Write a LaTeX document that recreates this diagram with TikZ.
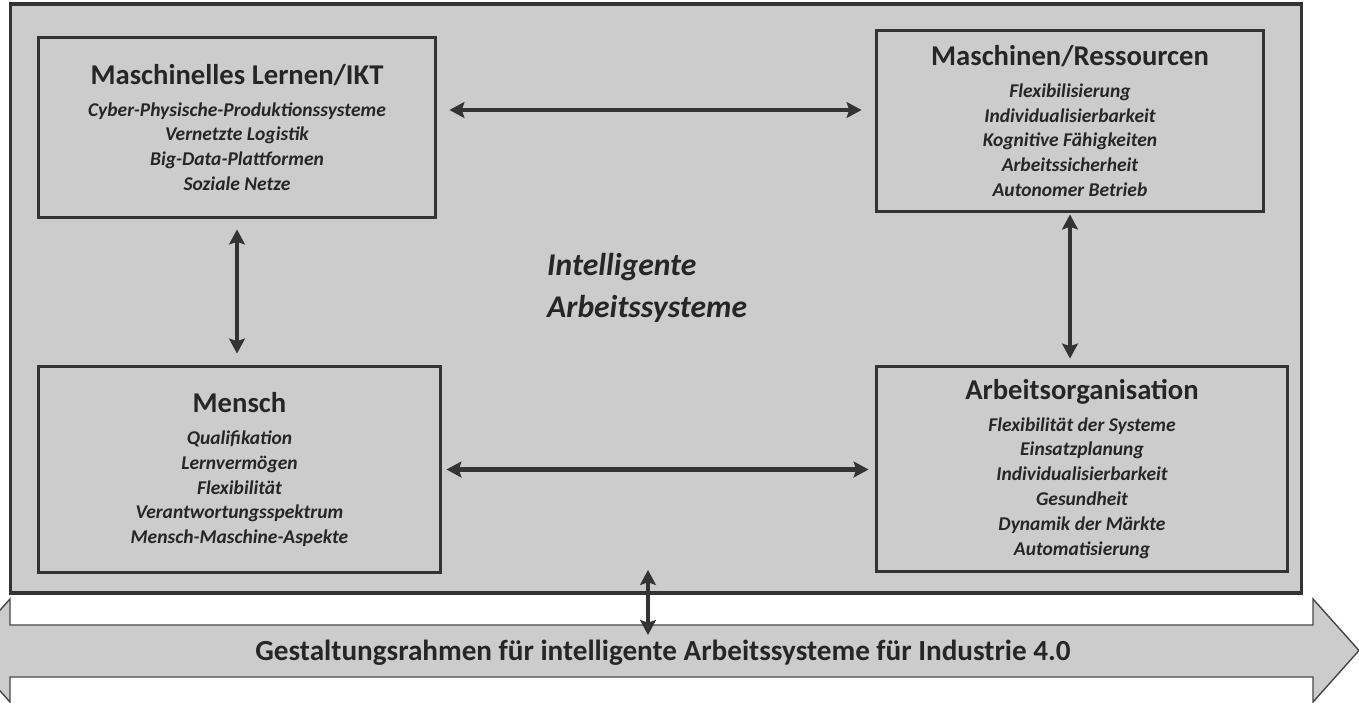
\documentclass[tikz,border=0pt]{standalone}
\usepackage{fontspec}
\setmainfont{Carlito}
\usetikzlibrary{arrows.meta}
\definecolor{grau}{HTML}{CCCCCC}
\definecolor{dunkel}{HTML}{333333}
\definecolor{schrift}{HTML}{262626}
\newcommand{\kopf}[1]{{\fontsize{16.3}{19}\selectfont\upshape #1}\\[4pt]}

\tikzset{
  kasten/.style={draw=dunkel, line width=1.7pt, fill=grau, align=center, text=schrift,
    font=\fontsize{11.1}{14.2}\selectfont\bfseries\itshape, inner sep=0pt},
  link/.style={draw=dunkel, line width=2.3pt,
    {Stealth[length=8.5pt,width=9pt,inset=1.5pt]}-{Stealth[length=8.5pt,width=9pt,inset=1.5pt]}},
}

\begin{document}
\begin{tikzpicture}[x=0.02cm, y=-0.02cm]
            \useasboundingbox (0,0) rectangle (1359,703);
            % Rahmen
            \node[draw=dunkel, line width=1.8pt, fill=grau, minimum width=25.84cm,
                minimum height=11.78cm, inner sep=0pt] (frame) at (656,298.5) {};
            \node[anchor=west, align=left, text=schrift,
                font=\fontsize{18}{24}\selectfont\bfseries\itshape] (mitte) at (541,288)
                {Intelligente\\Arbeitssysteme};
            % Kaesten
            \node[kasten, minimum width=7.96cm, minimum height=3.62cm] (ml) at (237,127.5)
                {\kopf{Maschinelles Lernen/IKT}Cyber-Physische-Produktionssysteme\\Vernetzte Logistik\\Big-Data-Plattformen\\Soziale Netze};
            \node[kasten, minimum width=7.76cm, minimum height=3.64cm] (mr) at (1070,121)
                {\kopf{Maschinen/Ressourcen}Flexibilisierung\\Individualisierbarkeit\\Kognitive Fähigkeiten\\Arbeitssicherheit\\Autonomer Betrieb};
            \node[kasten, minimum width=8.06cm, minimum height=4.14cm] (ms) at (239.5,469.5)
                {\kopf{Mensch}Qualifikation\\Lernvermögen\\Flexibilität\\Verantwortungsspektrum\\Mensch-Maschine-Aspekte};
            \node[kasten, minimum width=8.24cm, minimum height=4.12cm] (ao) at (1082,469)
                {\kopf{Arbeitsorganisation}Flexibilität der Systeme\\Einsatzplanung\\Individualisierbarkeit\\Gesundheit\\Dynamik der Märkte\\Automatisierung};
            % Gestaltungsrahmen
            \draw[draw=dunkel!90, line width=0.8pt, fill=grau] (10,625) -- (1313,625) -- (1313,599)
                -- (1359,650.5) -- (1313,702) -- (1313,677) -- (10,677) -- (10,702)
                -- (-36,650.5) -- (10,599) -- cycle;
            \node[anchor=base, text=schrift, font=\fontsize{16.6}{19}\selectfont\bfseries] (basis) at (663,660)
                {Gestaltungsrahmen für intelligente Arbeitssysteme für Industrie 4.0};
            \coordinate (innen) at (648,570);
            \coordinate (fuss) at (648,635);
            % Verbindungen
            \draw[link, shorten <=0.24cm, shorten >=0.26cm] (ml.east |- 0,110) -- (mr.west |- 0,110);
            \draw[link, shorten <=0.2cm, shorten >=0.22cm] (ml.south) -- (ms.north -| ml.south);
            \draw[link, shorten <=0.02cm, shorten >=0.12cm] (mr.south) -- (ao.north -| mr.south);
            \draw[link, shorten <=0.08cm, shorten >=0.12cm] (ms.east) -- (ms.east -| ao.west);
            \draw[link] (innen) -- (fuss);
\end{tikzpicture}
\end{document}
